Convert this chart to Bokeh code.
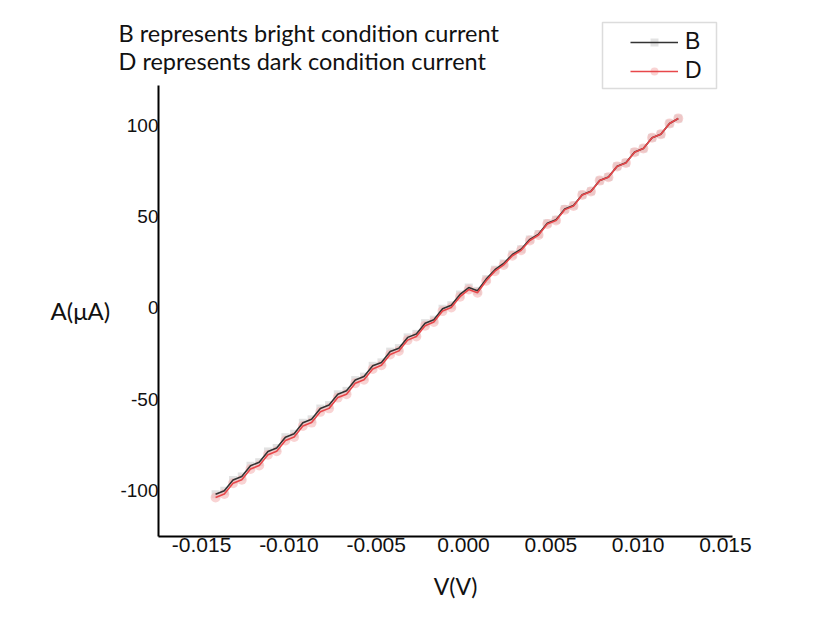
from bokeh.plotting import figure
from bokeh.models import (Range1d, FixedTicker, NumeralTickFormatter, Label,
                          Legend, LegendItem, BoxAnnotation, ColumnDataSource)
from bokeh.embed import file_html
from bokeh.resources import INLINE

# ---- data ----
voltage = [-0.0142, -0.0137, -0.0132, -0.0127, -0.0122, -0.0117, -0.0112, -0.0107,
           -0.0102, -0.0097, -0.0092, -0.0087, -0.0082, -0.0077, -0.0072, -0.0067,
           -0.0062, -0.0057, -0.0052, -0.0047, -0.0042, -0.0037, -0.0032, -0.0027,
           -0.0022, -0.0017, -0.0012, -0.0007, -0.0002, 0.0003, 0.0008, 0.0013,
           0.0018, 0.0023, 0.0028, 0.0033, 0.0038, 0.0043, 0.0048, 0.0053,
           0.0058, 0.0063, 0.0068, 0.0073, 0.0078, 0.0083, 0.0088, 0.0093,
           0.0098, 0.0103, 0.0108, 0.0113, 0.0118, 0.0123]
current_bright = [-102.0, -100.1, -94.2, -92.3, -86.4, -84.5, -78.6, -76.7,
                  -70.8, -68.9, -62.9, -61.0, -55.1, -53.2, -47.3, -45.4,
                  -39.5, -37.6, -31.7, -29.8, -23.9, -22.0, -16.1, -14.2,
                  -8.3, -6.4, -0.4, 1.5, 7.4, 11.2, 9.4, 15.8,
                  21.0, 24.4, 29.3, 32.2, 37.6, 40.5, 46.4, 48.3,
                  54.2, 56.2, 62.1, 64.0, 69.9, 71.8, 77.7, 79.6,
                  85.5, 87.4, 93.3, 95.2, 101.1, 103.8]
current_dark = [-103.8, -101.9, -96.0, -94.1, -88.2, -86.3, -80.4, -78.5,
                -72.6, -70.7, -64.7, -62.8, -56.9, -55.0, -49.1, -47.2,
                -41.2, -39.3, -33.4, -31.4, -25.5, -23.5, -17.6, -15.6,
                -9.7, -7.7, -1.7, 0.3, 6.2, 10.1, 8.4, 14.9,
                20.2, 23.6, 28.6, 31.6, 37.0, 40.0, 46.0, 47.9,
                53.9, 55.9, 61.9, 63.8, 69.8, 71.7, 77.6, 79.5,
                85.4, 87.4, 93.3, 95.2, 101.1, 103.8]
x_ticks = [-0.015, -0.010, -0.005, 0.000, 0.005, 0.010, 0.015]
y_ticks = [-100, -50, 0, 50, 100]
x_axis_extent = (-0.01747, 0.01541)
y_axis_extent = (-125.2, 121.9)
series_names = ["B", "D"]
note_lines = ["B represents bright condition current",
              "D represents dark condition current"]
y_title = "A(μA)"
x_title = "V(V)"

src = ColumnDataSource(dict(v=voltage, b=current_bright, d=current_dark))

W, H = 830, 636
p = figure(width=W, height=H, output_backend="svg", toolbar_location=None,
           x_range=Range1d(-0.026518, 0.021019), y_range=Range1d(-180.0, 168.49),
           min_border_left=0, min_border_right=0, min_border_top=0,
           min_border_bottom=0)
p.outline_line_color = None
p.xgrid.visible = False
p.ygrid.visible = False
p.background_fill_color = "white"
p.border_fill_color = "white"

for ax in (p.xaxis[0], p.yaxis[0]):
    ax.axis_line_color = "black"
    ax.axis_line_width = 2
    ax.major_tick_out = 0
    ax.major_tick_in = 0
    ax.minor_tick_out = 0
    ax.minor_tick_in = 0
    ax.major_label_text_font = "Liberation Sans"
    ax.major_label_text_color = "#111111"

xa = p.xaxis[0]
xa.ticker = FixedTicker(ticks=x_ticks)
xa.formatter = NumeralTickFormatter(format="0.000")
xa.major_label_text_font_size = "21px"
xa.major_label_standoff = 2
xa.bounds = x_axis_extent
xa.fixed_location = y_axis_extent[0]

ya = p.yaxis[0]
ya.ticker = FixedTicker(ticks=y_ticks)
ya.formatter = NumeralTickFormatter(format="0")
ya.major_label_text_font_size = "19px"
ya.major_label_standoff = 0
ya.bounds = y_axis_extent
ya.fixed_location = x_axis_extent[0]

sb = p.scatter("v", "b", source=src, marker="square", size=8,
               fill_color="#d6d6d6", line_color=None, fill_alpha=0.7)
sd = p.scatter("v", "d", source=src, marker="circle", size=10,
               fill_color="#f5b5b5", line_color=None, fill_alpha=0.6)
lb = p.line("v", "b", source=src, line_color="#333333", line_width=1.6)
ld = p.line("v", "d", source=src, line_color="#e8474a", line_width=1.6)

legend = Legend(items=[LegendItem(label=series_names[0], renderers=[sb, lb]),
                       LegendItem(label=series_names[1], renderers=[sd, ld])],
                location=(630, H - 84), padding=0, margin=0, spacing=2,
                glyph_width=48, glyph_height=20, label_height=20,
                label_standoff=7, label_text_font="Liberation Sans",
                label_text_font_size="23px", label_text_color="#111111",
                border_line_color=None, background_fill_alpha=0)
p.add_layout(legend, "center")

box = BoxAnnotation(left=602, right=716, top=H - 22, bottom=H - 88,
                    left_units="screen", right_units="screen",
                    top_units="screen", bottom_units="screen",
                    fill_alpha=0, line_color="#8c8c8c", line_width=1.5)
p.add_layout(box)

font = "Lato"
p.add_layout(Label(x=118, y=H - 46, x_units="screen", y_units="screen",
                   text=note_lines[0], text_font=font, text_font_size="23.5px",
                   text_color="#111111"))
p.add_layout(Label(x=118, y=H - 74, x_units="screen", y_units="screen",
                   text=note_lines[1], text_font=font, text_font_size="23.5px",
                   text_color="#111111"))
p.add_layout(Label(x=50, y=H - 310, x_units="screen", y_units="screen",
                   text=y_title, text_font=font, text_font_size="24px",
                   text_baseline="middle", text_color="#111111"))
p.add_layout(Label(x=455, y=H - 585, x_units="screen", y_units="screen",
                   text=x_title, text_font=font, text_font_size="23px",
                   text_align="center", text_baseline="middle",
                   text_color="#111111"))

open("out.html", "w").write(file_html(p, INLINE))
